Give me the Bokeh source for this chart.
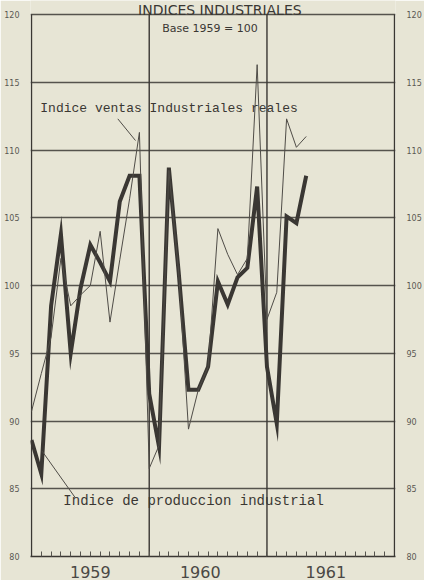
from bokeh.plotting import figure
from bokeh.models import Range1d, LinearAxis, FixedTicker
from bokeh.core.properties import value
from bokeh.embed import file_html
from bokeh.resources import INLINE

# Monthly index, Jan 1959 = 0 ... May 1961 = 28
months = list(range(29))

# Indice de produccion industrial (thick line)
produccion = [88.6, 86.1, 98.5, 103.8, 95.0, 99.8, 103.0, 101.7, 100.3, 106.2, 108.1, 108.1,
              92.0, 88.1, 108.7, 101.0, 92.3, 92.3, 94.0, 100.3, 98.6, 100.6, 101.3, 107.3,
              94.0, 89.8, 105.1, 104.6, 108.1]

# Indice ventas industriales reales (thin line)
ventas = [90.7, 93.5, 96.2, 102.0, 98.5, 99.3, 100.0, 104.0, 97.3, 101.9, 106.4, 111.3,
          86.5, 88.2, 108.5, 101.0, 89.4, 92.3, 94.0, 104.2, 102.3, 100.8, 102.0, 116.3,
          97.5, 99.5, 112.3, 110.2, 111.0]

y_ticks = [80, 85, 90, 95, 100, 105, 110, 115, 120]
year_names = ["1959", "1960", "1961"]
year_label_pos = [6, 17.2, 30]
frame_months = [0, 12, 24, 37]
month_ticks = list(range(1, 37))

paper = "#e7e5d5"
ink = "#3a3733"
grid_ink = "#55534d"

p = figure(width=424, height=580,
           x_range=Range1d(-0.1, 37.1), y_range=Range1d(80, 121.035),
           output_backend="svg", toolbar_location=None,
           min_border_left=30, min_border_right=29, min_border_top=0, min_border_bottom=0,
           background_fill_color=paper, border_fill_color=paper, outline_line_color=None)

# horizontal grid
p.xgrid.visible = False
p.ygrid.ticker = FixedTicker(ticks=y_ticks)
p.ygrid.grid_line_color = grid_ink
p.ygrid.grid_line_width = 1.3

# left axis
yl = p.yaxis[0]
yl.ticker = FixedTicker(ticks=y_ticks)
yl.axis_line_color = None
yl.major_tick_line_color = None
yl.minor_tick_line_color = None
yl.major_label_text_font_size = "8px"
yl.major_label_text_color = "#5a5852"
yl.major_label_text_font = "DejaVu Sans"
yl.major_label_standoff = 5

# right axis
yr = LinearAxis(ticker=FixedTicker(ticks=y_ticks))
yr.axis_line_color = None
yr.major_tick_line_color = None
yr.minor_tick_line_color = None
yr.major_label_text_font_size = "8px"
yr.major_label_text_color = "#5a5852"
yr.major_label_text_font = "DejaVu Sans"
yr.major_label_standoff = 5
p.add_layout(yr, "right")

# bottom axis with year labels and month ticks
xa = p.xaxis[0]
xa.ticker = FixedTicker(ticks=year_label_pos, minor_ticks=month_ticks)
xa.major_label_overrides = {pos: name for pos, name in zip(year_label_pos, year_names)}
xa.major_tick_in = 0
xa.major_tick_out = 0
xa.minor_tick_in = 5
xa.minor_tick_out = 0
xa.minor_tick_line_color = grid_ink
xa.axis_line_color = ink
xa.axis_line_width = 1.5
xa.major_label_text_font_size = "16px"
xa.major_label_text_font = "DejaVu Sans"
xa.major_label_text_color = "#4a4844"
xa.major_label_standoff = 9

# vertical frame and year dividers
p.segment(x0=frame_months, y0=[80] * 4, x1=frame_months, y1=[120] * 4,
          line_color=ink, line_width=1.4)

# series
p.line(months, produccion, line_width=4, line_color=ink, line_join="miter")
p.line(months, ventas, line_width=1, line_color="#4f4c47")

# texts
p.text(x=[19.2], y=[120.37], text=["INDICES INDUSTRIALES"], text_align="center",
       text_baseline="alphabetic", text_font=value("DejaVu Sans"), text_font_size="14px",
       text_color=ink)
p.text(x=[18.2], y=[119.0], text=["Base 1959 = 100"], text_align="center",
       text_baseline="middle", text_font=value("DejaVu Sans"), text_font_size="11px",
       text_color=ink)
p.text(x=[0.9], y=[113.05], text=["Indice ventas Industriales reales"], text_align="left",
       text_baseline="middle", text_font=value("Liberation Mono"), text_font_size="13px",
       text_color=ink)
p.text(x=[3.25], y=[84.07], text=["Indice de produccion industrial"], text_align="left",
       text_baseline="middle", text_font=value("Liberation Mono"), text_font_size="14px",
       text_color=ink)

# leader lines
p.line([8.8, 10.6], [112.3, 110.7], line_width=1, line_color="#4f4c47")
p.line([1.1, 4.5], [87.76, 84.3], line_width=1, line_color="#4f4c47")

open("out.html", "w").write(file_html(p, INLINE))
